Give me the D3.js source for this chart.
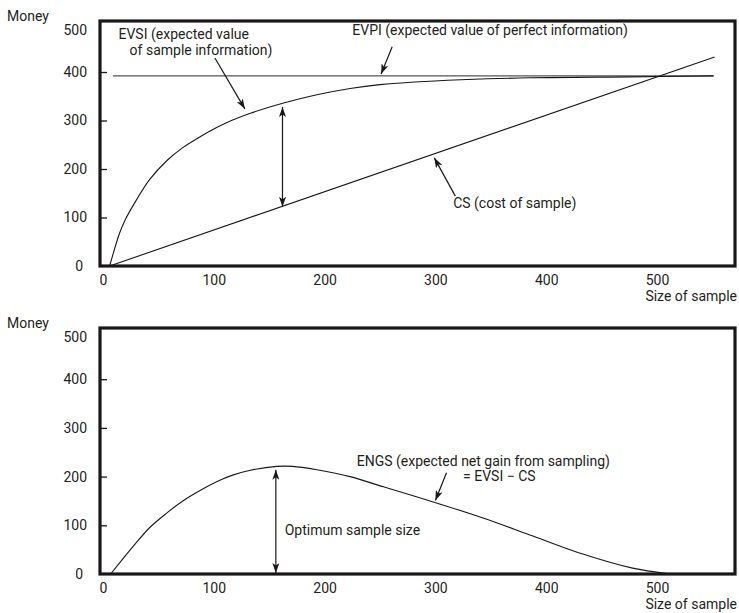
<!DOCTYPE html>
<html>
<head>
<meta charset="utf-8">
<script src="https://cdn.jsdelivr.net/npm/d3@7"></script>
<style>
  html, body { margin: 0; padding: 0; background: #fff; }
  svg { display: block; }
  text { font-family: Roboto, "Open Sans", sans-serif; fill: #231f20; }
</style>
</head>
<body>
<svg id="chart" width="739" height="613"></svg>
<script>
// ---------- data ----------
const xTicks = [0, 100, 200, 300, 400, 500];
const yTicks = [0, 100, 200, 300, 400, 500];

// EVSI (expected value of sample information)
const evsiN = [6, 15, 20, 27, 42, 58, 72, 88, 103, 117, 133, 163, 193, 223, 250, 295, 385, 476, 551];
const evsiV = [0, 68, 95, 124, 178, 218, 244, 267, 286, 301, 315, 336, 353, 366, 374, 381, 388, 390, 392];

// EVPI (expected value of perfect information)
const evpiN = [9, 551];
const evpiV = [392, 392];

// CS (cost of sample)
const csN = [6, 552];
const csV = [0, 431];

// ENGS = EVSI - CS
const engsN = [7, 27, 42, 58, 72, 88, 103, 117, 133, 157, 171, 193, 223, 253, 298, 343, 388, 433, 478, 509];
const engsV = [0, 56, 95, 126, 150, 172, 190, 203, 213, 221, 221, 214, 200, 179, 148, 115, 78, 41, 12, 1];

// optimum sample size
const optimumN = 156;
const gapN = 162;

// ---------- layout ----------
const svg = d3.select("#chart");
const W = 739, H = 613;
svg.append("rect").attr("width", W).attr("height", H).attr("fill", "#fff");

const frameL = 100, frameR = 735;
const ink = "#1a1718";
const FS = 14;

const x = d3.scaleLinear().domain([0, 500]).range([103, 657]);

const defs = svg.append("defs");
defs.append("marker")
  .attr("id", "ah")
  .attr("markerUnits", "userSpaceOnUse")
  .attr("viewBox", "0 0 10 7")
  .attr("markerWidth", 10).attr("markerHeight", 7)
  .attr("refX", 10).attr("refY", 3.5)
  .attr("orient", "auto-start-reverse")
  .append("path").attr("d", "M0,0 L10,3.5 L0,7 L2.5,3.5 z").attr("fill", ink);

function panel(top, bottom) {
  const g = svg.append("g");
  const y = d3.scaleLinear().domain([0, 500]).range([bottom, top + 2.5]);

  // y axis
  const ya = g.append("g").attr("transform", `translate(${frameL},0)`)
    .call(d3.axisLeft(y).tickValues(yTicks).tickSize(-7).tickPadding(13).tickFormat(d3.format("d")));
  ya.select(".domain").remove();
  ya.selectAll(".tick line").attr("stroke", ink).attr("stroke-width", 1.3)
    .attr("display", d => (d === 0 || d === 500) ? "none" : null);
  ya.selectAll(".tick text").attr("font-size", FS).attr("font-family", "Roboto")
    .attr("fill", ink)
    .attr("dy", d => d === 500 ? "0.8em" : "0.32em")
    .attr("x", d => d === 0 ? -17 : -13);

  // x axis
  const xa = g.append("g").attr("transform", `translate(0,${bottom})`)
    .call(d3.axisBottom(x).tickValues(xTicks).tickSize(0).tickPadding(9).tickFormat(d3.format("d")));
  xa.select(".domain").remove();
  xa.selectAll(".tick text").attr("font-size", FS).attr("font-family", "Roboto").attr("fill", ink);

  // frame
  g.append("rect")
    .attr("x", frameL).attr("y", top)
    .attr("width", frameR - frameL).attr("height", bottom - top)
    .attr("fill", "none").attr("stroke", ink).attr("stroke-width", 3.2);

  // axis titles
  g.append("text").attr("x", 7).attr("y", top).attr("font-size", FS).text("Money");
  g.append("text").attr("x", 737).attr("y", bottom + 35).attr("text-anchor", "end")
    .attr("font-size", FS).text("Size of sample");
  return { g, y };
}

const P1 = panel(21, 266);
const P2 = panel(328, 574);

function curve(p, ns, vs, color, width, type) {
  const pts = ns.map((n, i) => [n, vs[i]]);
  p.g.append("path")
    .attr("d", d3.line().x(d => x(d[0])).y(d => p.y(d[1])).curve(type || d3.curveCatmullRom.alpha(0.5))(pts))
    .attr("fill", "none").attr("stroke", color).attr("stroke-width", width);
}
function arrow(p, n1, v1, n2, v2, both) {
  const l = p.g.append("line")
    .attr("x1", x(n1)).attr("y1", p.y(v1)).attr("x2", x(n2)).attr("y2", p.y(v2))
    .attr("stroke", ink).attr("stroke-width", 1.2)
    .attr("marker-end", "url(#ah)");
  if (both) l.attr("marker-start", "url(#ah)");
}
function label(p, n, v, str, anchor) {
  p.g.append("text").attr("x", x(n)).attr("y", p.y(v))
    .attr("font-size", FS).attr("text-anchor", anchor || "start").text(str);
}

// top panel
curve(P1, evpiN, evpiV, "#555", 1.4, d3.curveLinear);
curve(P1, csN, csV, ink, 1.1, d3.curveLinear);
curve(P1, evsiN, evsiV, ink, 1.1);
arrow(P1, gapN, 328, gapN, 122, true);
arrow(P1, 101, 429, 128, 324);
arrow(P1, 261, 452, 251, 396);
arrow(P1, 318, 144, 299, 223);
label(P1, 14, 468, "EVSI (expected value");
label(P1, 24, 435, "of sample information)");
label(P1, 225, 476, "EVPI (expected value of perfect information)");
label(P1, 316, 120, "CS (cost of sample)");

// bottom panel
curve(P2, engsN, engsV, ink, 1.1);
arrow(P2, optimumN, 214, optimumN, 2, true);
arrow(P2, 310, 208, 300, 151);
label(P2, 229, 221, "ENGS (expected net gain from sampling)");
label(P2, 325, 190, "= EVSI \u2212 CS");
label(P2, 164, 80, "Optimum sample size");
</script>
</body>
</html>
